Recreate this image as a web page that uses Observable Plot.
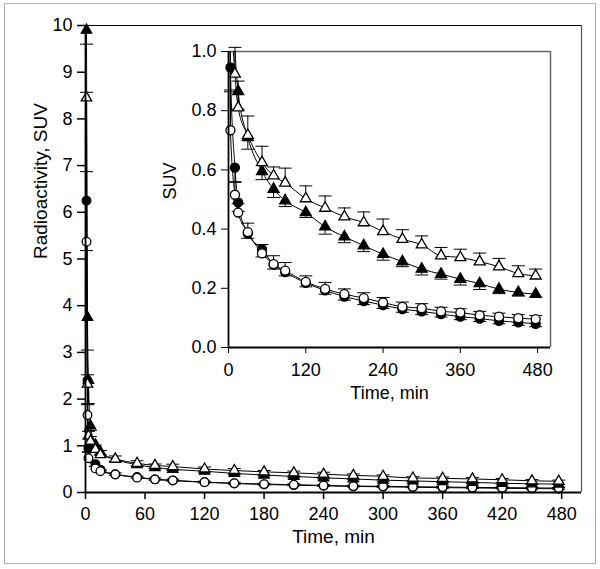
<!DOCTYPE html>
<html><head><meta charset="utf-8">
<script src="https://cdn.jsdelivr.net/npm/d3@7"></script>
<script src="https://cdn.jsdelivr.net/npm/@observablehq/plot@0.6"></script>
<style>
body{margin:0;background:#fff;}
#wrap{position:relative;width:600px;height:569px;font-family:"Liberation Sans",Arial,sans-serif;background:#fff;}
#border{position:absolute;left:4px;top:3px;width:592px;height:561px;border:1px solid #b0b0b0;box-sizing:border-box}
#main,#inset{position:absolute}
#main{left:0;top:0}
#inset{left:130px;top:30px}
</style></head><body>
<div id="wrap"><div id="border"></div><div id="main"></div><div id="inset"></div></div>
<script>
// Time points (min)
const timesCircle   = [1, 2, 3, 10, 15, 30, 52, 70, 88, 120, 150, 180, 210, 240, 270, 300, 330, 360, 390, 420, 450, 477];
const timesTriangle = [1, 2, 3, 5, 10, 15, 30, 52, 70, 88, 120, 150, 180, 210, 240, 270, 300, 330, 360, 390, 420, 450, 477];
// SUV values
const filledCircle   = [6.25, 2.4, 0.946, 0.608, 0.49, 0.385, 0.332, 0.28, 0.255, 0.218, 0.193, 0.172, 0.157, 0.143, 0.13, 0.122, 0.113, 0.104, 0.098, 0.09, 0.085, 0.08];
const openCircle     = [5.37, 1.66, 0.734, 0.516, 0.456, 0.39, 0.318, 0.282, 0.26, 0.222, 0.198, 0.18, 0.167, 0.152, 0.1375, 0.133, 0.122, 0.118, 0.109, 0.104, 0.099, 0.096];
const filledTriangle = [9.9, 3.75, 2.4, 1.43, 1.02, 0.865, 0.71, 0.595, 0.535, 0.496, 0.456, 0.408, 0.374, 0.344, 0.315, 0.29, 0.265, 0.248, 0.231, 0.216, 0.197, 0.186, 0.18];
const openTriangle   = [8.45, 2.32, 1.21, 1.1, 0.924, 0.81, 0.717, 0.625, 0.58, 0.556, 0.503, 0.471, 0.4415, 0.422, 0.392, 0.366, 0.347, 0.31, 0.304, 0.29, 0.273, 0.25, 0.242];
// error bars (SD): drawn down for filled symbols, up for open symbols
const filledCircleErr   = [1.07, 0.5, 0.076, 0.05, 0.03, 0.016, 0.026, 0.015, 0.013, 0.013, 0.013, 0.012, 0.012, 0.011, 0.011, 0.011, 0.01, 0.01, 0.01, 0.01, 0.01, 0.01];
const openCircleErr     = [1.5, 0.22, 0.13, 0.044, 0.03, 0.03, 0.03, 0.028, 0.027, 0.02, 0.022, 0.018, 0.018, 0.017, 0.016, 0.015, 0.014, 0.013, 0.013, 0.012, 0.012, 0.012];
const filledTriangleErr = [0.3, 0.7, 0.5, 0.1, 0.08, 0.06, 0.04, 0.028, 0.028, 0.02, 0.017, 0.025, 0.02, 0.02, 0.02, 0.017, 0.02, 0.017, 0.02, 0.02, 0.015, 0.012, 0.01];
const openTriangleErr   = [0.12, 0.2, 0.1, 0.1, 0.09, 0.09, 0.065, 0.055, 0.03, 0.05, 0.043, 0.041, 0.03, 0.036, 0.042, 0.032, 0.03, 0.028, 0.028, 0.029, 0.028, 0.026, 0.023];

const mainXTicks = [0, 60, 120, 180, 240, 300, 360, 420, 480];
const mainYTicks = [0, 1, 2, 3, 4, 5, 6, 7, 8, 9, 10];
const insetXTicks = [0, 120, 240, 360, 480];
const insetYTicks = [0, 0.2, 0.4, 0.6, 0.8, 1.0];

const series = [
  {name: "filledCircle", symbol: "circle", fill: "black", times: timesCircle, values: filledCircle, err: filledCircleErr, dir: -1},
  {name: "openCircle", symbol: "circle", fill: "white", times: timesCircle, values: openCircle, err: openCircleErr, dir: 1},
  {name: "filledTriangle", symbol: "triangle", fill: "black", times: timesTriangle, values: filledTriangle, err: filledTriangleErr, dir: -1},
  {name: "openTriangle", symbol: "triangle", fill: "white", times: timesTriangle, values: openTriangle, err: openTriangleErr, dir: 1}
];
const rows = series.flatMap(s => s.times.map((t, i) => ({
  series: s.name, symbol: s.symbol, fill: s.fill, t, v: s.values[i], end: s.values[i] + s.dir * s.err[i]
})));

const capSymbol = {draw(ctx) { ctx.moveTo(-6.5, 0); ctx.lineTo(6.5, 0); }};
const font = "Liberation Sans, Arial, sans-serif";

function pointMarks(data, r) {
  return [
    Plot.ruleX(data, {x: "t", y1: "v", y2: "end", stroke: "black", strokeWidth: 1}),
    Plot.dot(data, {x: "t", y: "end", symbol: capSymbol, stroke: "black", strokeWidth: 1, fill: "none"}),
    ...["filledCircle", "openCircle", "filledTriangle", "openTriangle"].map(n =>
      Plot.dot(data.filter(d => d.series === n), {x: "t", y: "v", symbol: d => d.symbol, r: n.includes("Triangle") ? r * 0.9 : r, fill: d => d.fill, stroke: "black", strokeWidth: 1.3}))
  ];
}

const mainPlot = Plot.plot({
  width: 600, height: 569,
  marginLeft: 85, marginRight: 19, marginTop: 25, marginBottom: 77,
  style: {fontFamily: font, fontSize: "18px", background: "transparent", color: "black"},
  x: {domain: [0, 500]},
  y: {domain: [0, 10]},
  symbol: {type: "identity"},
  color: {type: "identity"},
  marks: [
    Plot.ruleY([10], {stroke: "black", strokeWidth: 1.2}),
    Plot.ruleX([500], {stroke: "#555", strokeWidth: 1.2}),
    Plot.line(rows, {x: "t", y: "v", z: "series", curve: "monotone-x", stroke: "black", strokeWidth: 1}),
    ...pointMarks(rows, 4.3),
    Plot.axisX({ticks: mainXTicks, tickSize: 7, tickPadding: 8, label: null, strokeWidth: 1.5}),
    Plot.axisY({ticks: mainYTicks, tickSize: 8, tickPadding: 5, label: null, strokeWidth: 1.5}),
    Plot.ruleX([0], {stroke: "black", strokeWidth: 1.8}),
    Plot.ruleY([0], {stroke: "black", strokeWidth: 1.8}),
    Plot.text(["Time, min"], {text: d => d, frameAnchor: "bottom", dy: 50, fontSize: 19}),
    Plot.text(["Radioactivity, SUV"], {text: d => d, frameAnchor: "left", dx: -45, rotate: -90, fontSize: 19})
  ]
});
document.getElementById("main").appendChild(mainPlot);

const insetRows = rows.filter(d => d.v <= 1.0);
const insetPlot = Plot.plot({
  width: 440, height: 380,
  marginLeft: 98, marginRight: 20, marginTop: 21, marginBottom: 63,
  style: {fontFamily: font, fontSize: "18px", background: "transparent", color: "black"},
  x: {domain: [0, 500]},
  y: {domain: [0, 1.0]},
  symbol: {type: "identity"},
  color: {type: "identity"},
  marks: [
    Plot.ruleY([1.0], {stroke: "#666", strokeWidth: 1.5}),
    Plot.ruleX([500], {stroke: "#666", strokeWidth: 1.5}),
    Plot.line(rows, {x: "t", y: "v", z: "series", curve: "monotone-x", stroke: "black", strokeWidth: 1, clip: true}),
    ...pointMarks(insetRows, 4.5),
    Plot.axisX({ticks: insetXTicks, tickSize: 6, tickPadding: 10, label: null}),
    Plot.axisY({ticks: insetYTicks, tickSize: 7, tickPadding: 5, tickFormat: d3.format(".1f"), label: null}),
    Plot.ruleX([0], {stroke: "black", strokeWidth: 1.8}),
    Plot.ruleY([0], {stroke: "black", strokeWidth: 1.8}),
    Plot.text(["Time, min"], {text: d => d, frameAnchor: "bottom", dy: 51, fontSize: 18}),
    Plot.text(["SUV"], {text: d => d, frameAnchor: "left", dx: -58, rotate: -90, fontSize: 18})
  ]
});
document.getElementById("inset").appendChild(insetPlot);
</script>
</body></html>
